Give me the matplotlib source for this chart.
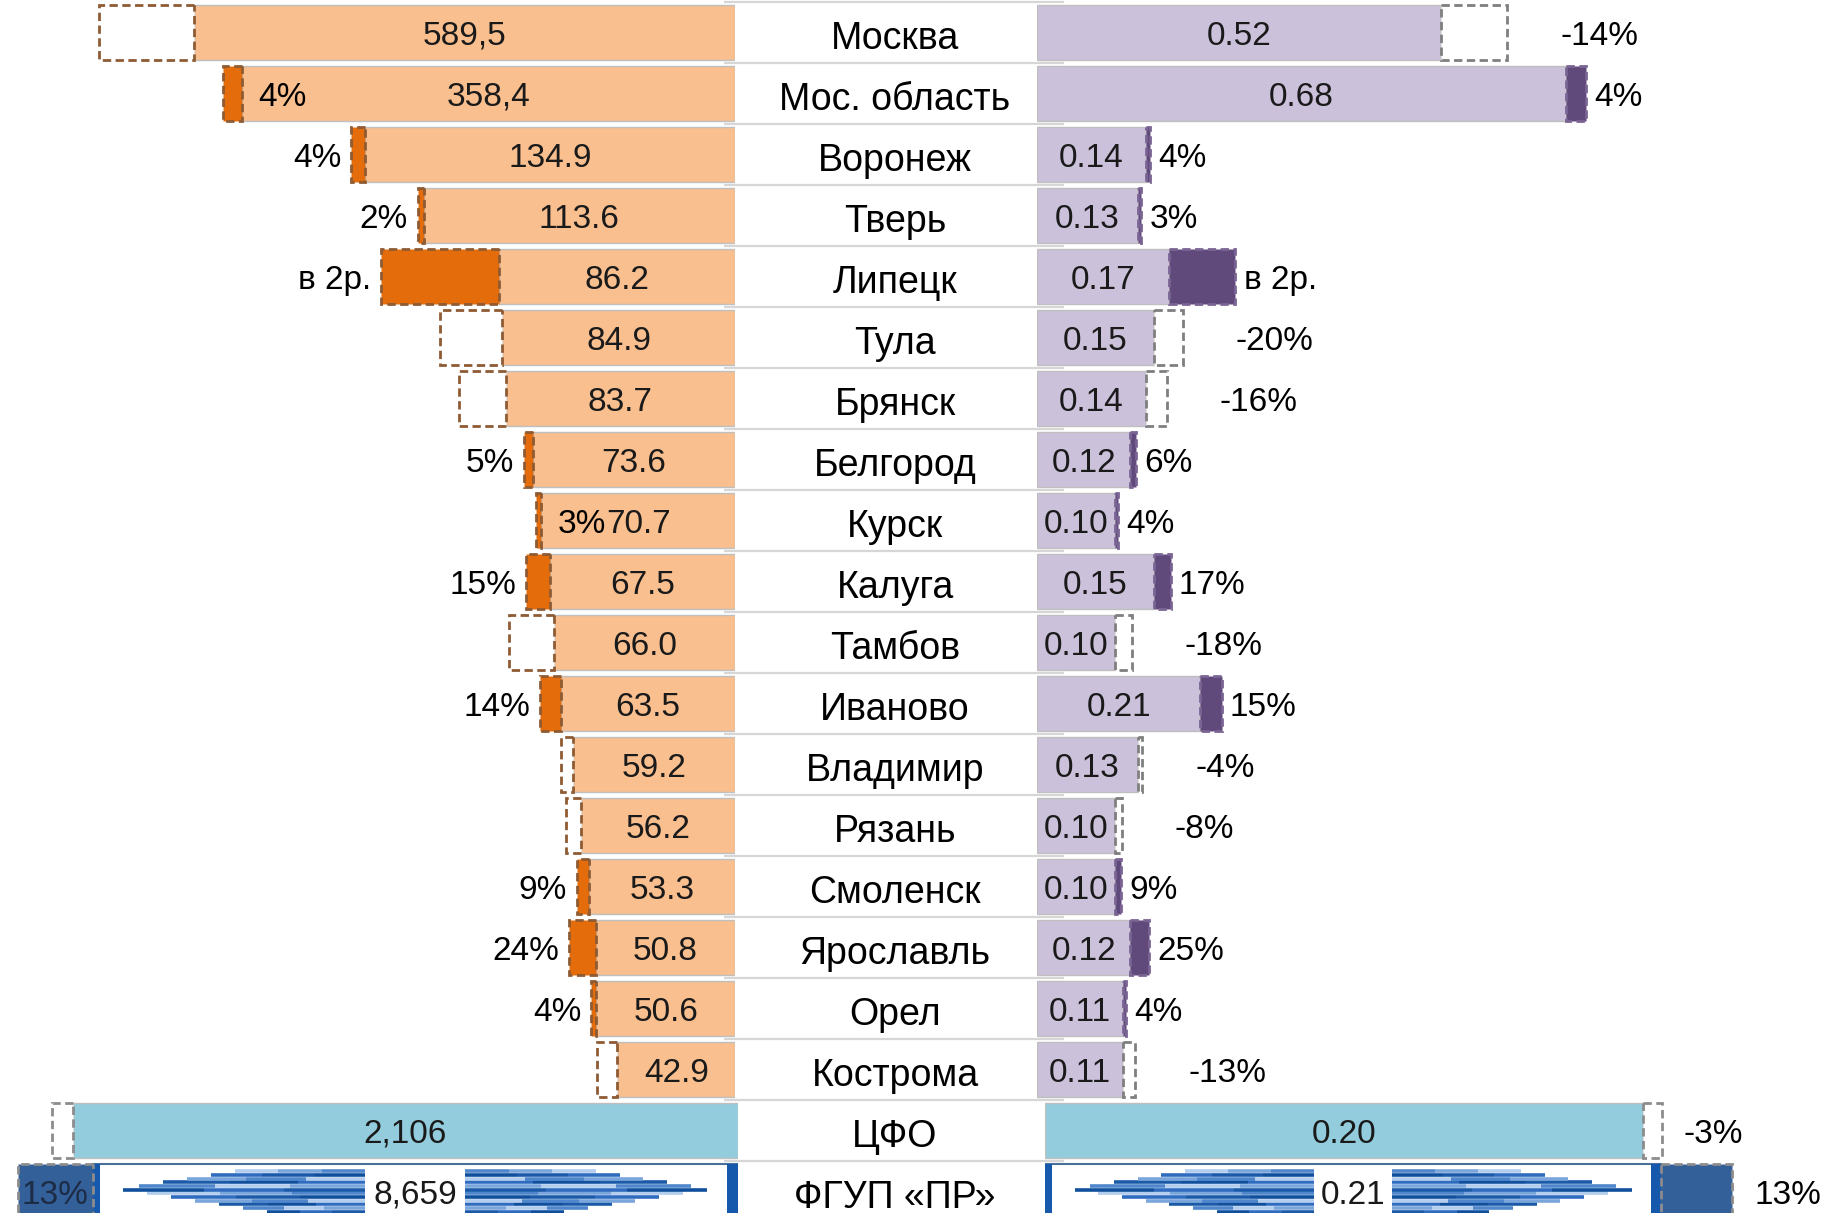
import numpy as np
import matplotlib.pyplot as plt

plt.rcParams['font.family'] = ['Liberation Sans', 'DejaVu Sans']
NUM_FONT = ['Liberation Sans Narrow', 'Liberation Sans', 'DejaVu Sans']
NUM_SIZE = 24
NAME_SIZE = 27

# data
regions = ['Москва', 'Мос. область', 'Воронеж', 'Тверь', 'Липецк', 'Тула', 'Брянск',
           'Белгород', 'Курск', 'Калуга', 'Тамбов', 'Иваново', 'Владимир', 'Рязань',
           'Смоленск', 'Ярославль', 'Орел', 'Кострома']
left_values = [589.5, 358.4, 134.9, 113.6, 86.2, 84.9, 83.7, 73.6, 70.7, 67.5,
               66.0, 63.5, 59.2, 56.2, 53.3, 50.8, 50.6, 42.9]
left_change = [-0.15, 0.04, 0.04, 0.02, 1.0, -0.21, -0.17, 0.05, 0.03, 0.15,
               -0.20, 0.14, -0.07, -0.09, 0.09, 0.24, 0.04, -0.15]
right_values = [0.52, 0.68, 0.14, 0.13, 0.17, 0.15, 0.14, 0.12, 0.10, 0.15,
                0.10, 0.21, 0.13, 0.10, 0.10, 0.12, 0.11, 0.11]
right_change = [-0.14, 0.04, 0.04, 0.03, 1.0, -0.20, -0.16, 0.06, 0.04, 0.17,
                -0.18, 0.15, -0.04, -0.08, 0.09, 0.25, 0.04, -0.13]

total_names = ['ЦФО', 'ФГУП «ПР»']
total_left = [2106, 8659]
total_left_change = [-0.03, 0.13]
total_right = [0.20, 0.21]
total_right_change = [-0.03, 0.13]

comma_rows = {'Москва', 'Мос. область'}
inside_label_rows = {'Мос. область', 'Курск'}

# colours
L_LIGHT, L_DARK, L_DASH = '#F9BF8F', '#E46C0A', '#8E5B33'
R_LIGHT, R_DARK, R_DASH = '#CCC1DA', '#604A7B', '#7F7F7F'
CFO = '#93CDDD'
FGUP_DARK, FGUP_EDGE = '#34609A', '#1658AC'
EDGE = '#BFBFBF'
DASH = (0, (3, 1.6))
DY = 0.06  # text sits a touch below the bar centre

W, H = 1821, 1213
fig = plt.figure(figsize=(W / 100, H / 100), dpi=100)


def rect(x0, y0, x1, y1):
    return [x0 / W, 1 - y1 / H, (x1 - x0) / W, (y1 - y0) / H]


def pct_text(p):
    return 'в 2р.' if p >= 1 else f'{p * 100:.0f}%'


def seg_ratio(p):
    # length of the change part relative to the current value
    return abs(1 - 1 / (1 + p))


# compressed scale for the two long bars on the left
T, C = 149.0, 35.2


def fwd(v):
    v = np.asarray(v, float)
    return np.where(v <= T, v, T + C * np.log(np.maximum(v, 1e-9) / T))


def inv(d):
    d = np.asarray(d, float)
    return np.where(d <= T, d, T * np.exp((np.minimum(d, 600) - T) / C))


# middle column: names and separators
axM = fig.add_axes(rect(735, 2, 1037, 1222))
axM.set_xlim(0, 1)
axM.set_ylim(19.5, -0.5)
axM.axis('off')
axM.hlines(np.arange(-0.5, 19), -0.035, 1.09, color='#D6D6D6', lw=1.6, clip_on=False)
for i, name in enumerate(regions + total_names):
    axM.text(0.53, i + 0.1, name, ha='center', va='center', fontsize=NAME_SIZE, color='black')

n = len(regions)
rows = np.arange(n)

# left panel
axL = fig.add_axes(rect(0, 2, 735, 1100))
axL.set_xscale('function', functions=(fwd, inv))
axL.set_xlim(float(inv(268.2)), 0)
axL.set_ylim(n - 0.5, -0.5)
axL.axis('off')
axL.barh(rows, left_values, height=0.9, color=L_LIGHT, edgecolor=EDGE, lw=1, zorder=2)
for i, (name, v, p) in enumerate(zip(regions, left_values, left_change)):
    ext = float(inv(fwd(v) * (1 + seg_ratio(p))))
    axL.barh(i, ext - v, left=v, height=0.9, color=L_DARK if p > 0 else 'white',
             edgecolor=L_DASH, lw=2, linestyle=DASH, zorder=3)
    txt = f'{v:.1f}'
    if name in comma_rows:
        txt = txt.replace('.', ',')
    axL.text(float(inv(fwd(v) / 2)), i + DY, txt, ha='center', va='center',
             fontsize=NUM_SIZE, family=NUM_FONT, color='#1a1a1a', zorder=5)
    if p > 0:
        if name in inside_label_rows:
            axL.annotate(pct_text(p), xy=(v, i + DY), xytext=(12, 0), textcoords='offset points',
                         ha='left', va='center', fontsize=NUM_SIZE, family=NUM_FONT, zorder=5)
        else:
            axL.annotate(pct_text(p), xy=(ext, i + DY), xytext=(-7, 0), textcoords='offset points',
                         ha='right', va='center', fontsize=NUM_SIZE, family=NUM_FONT, zorder=5)

# right panel
axR = fig.add_axes(rect(1037, 2, 1821, 1100))
axR.set_xlim(0, 1.008)
axR.set_ylim(n - 0.5, -0.5)
axR.axis('off')
axR.barh(rows, right_values, height=0.9, color=R_LIGHT, edgecolor=EDGE, lw=1, zorder=2)
for i, (v, p) in enumerate(zip(right_values, right_change)):
    ext = v * (1 + seg_ratio(p))
    axR.barh(i, ext - v, left=v, height=0.9, color=R_DARK if p > 0 else 'white',
             edgecolor='#7A6494' if p > 0 else R_DASH, lw=2, linestyle=DASH, zorder=3)
    axR.text(v / 2, i + DY, f'{v:.2f}', ha='center', va='center', fontsize=NUM_SIZE,
             family=NUM_FONT, color='#1a1a1a', zorder=5)
    axR.annotate(pct_text(p), xy=(ext, i + DY), xytext=(6 if p > 0 else 38, 0),
                 textcoords='offset points', ha='left', va='center', fontsize=NUM_SIZE,
                 family=NUM_FONT, zorder=5)


def draw_wings(ax, xc, gap, length):
    ys = np.linspace(-0.33, 0.33, 12)
    shades = ['#1a5aa8', '#7aa6dc', '#2f6cc0', '#b3cdee', '#0f4f9c', '#4f86cc']
    for j, y in enumerate(ys):
        span = length * (0.4 + 0.6 * (1 - abs(y - 0.04) / 0.37))
        edges = np.linspace(0, span, 4)
        for side in (-1, 1):
            x0 = xc + side * gap
            for k in range(3):
                a, b = x0 + side * edges[k], x0 + side * edges[k + 1]
                ax.plot([a, b], [0.5 + y, 0.5 + y], transform=ax.transAxes,
                        color=shades[(j + 2 * k) % len(shades)], lw=2.6,
                        solid_capstyle='butt', zorder=4)


# bottom rows: each total on its own scale
left_lims = [2337, 9900]
right_lims = [0.2595, 0.2645]
for k in range(2):
    y0 = 1100 + 61 * k
    v, p = total_left[k], total_left_change[k]
    ax = fig.add_axes(rect(0, y0, 738, y0 + 61))
    ax.set_xlim(left_lims[k], 0)
    ax.set_ylim(0.5, -0.5)
    ax.axis('off')
    ext = v * (1 + seg_ratio(p))
    if k == 0:
        ax.barh(0, v, height=0.9, color=CFO, edgecolor=EDGE, lw=1, zorder=2)
        ax.barh(0, ext - v, left=v, height=0.9, color='white', edgecolor='#8C8C8C',
                lw=2, linestyle=DASH, zorder=3)
    else:
        ax.barh(0, v, height=0.9, color='white', edgecolor='#4A6F9A', lw=1.5, zorder=2)
        ax.barh(0, v * 0.017, height=0.9, color=FGUP_EDGE, lw=0, zorder=3)
        ax.barh(0, v * 0.011, left=v * 0.989, height=0.9, color=FGUP_EDGE, lw=0, zorder=3)
        ax.barh(0, ext - v, left=v, height=0.9, color=FGUP_DARK, edgecolor='#8C8C8C',
                lw=2, linestyle=DASH, zorder=3)
        ax.text((v + ext) / 2, DY, pct_text(p), ha='center', va='center', fontsize=NUM_SIZE,
                family=NUM_FONT, color='#1d2b45', zorder=5)
        draw_wings(ax, 1 - v / 2 / left_lims[k], 0.068, 0.333)
    ax.text(v / 2, DY, f'{v:,}', ha='center', va='center', fontsize=NUM_SIZE,
            family=NUM_FONT, color='#1a1a1a', zorder=5)

    v, p = total_right[k], total_right_change[k]
    ax = fig.add_axes(rect(1045, y0, 1821, y0 + 61))
    ax.set_xlim(0, right_lims[k])
    ax.set_ylim(0.5, -0.5)
    ax.axis('off')
    ext = v * (1 + seg_ratio(p))
    if k == 0:
        ax.barh(0, v, height=0.9, color=CFO, edgecolor=EDGE, lw=1, zorder=2)
        ax.barh(0, ext - v, left=v, height=0.9, color='white', edgecolor='#8C8C8C',
                lw=2, linestyle=DASH, zorder=3)
    else:
        ax.barh(0, v, height=0.9, color='white', edgecolor='#4A6F9A', lw=1.5, zorder=2)
        ax.barh(0, v * 0.012, height=0.9, color=FGUP_EDGE, lw=0, zorder=3)
        ax.barh(0, v * 0.017, left=v * 0.983, height=0.9, color=FGUP_EDGE, lw=0, zorder=3)
        ax.barh(0, ext - v, left=v, height=0.9, color=FGUP_DARK, edgecolor='#8C8C8C',
                lw=2, linestyle=DASH, zorder=3)
        draw_wings(ax, v / 2 / right_lims[k], 0.05, 0.314)
    ax.text(v / 2, DY, f'{v:.2f}', ha='center', va='center', fontsize=NUM_SIZE,
            family=NUM_FONT, color='#1a1a1a', zorder=5)
    ax.annotate(pct_text(p), xy=(ext, DY), xytext=(16, 0),
                textcoords='offset points', ha='left', va='center', fontsize=NUM_SIZE,
                family=NUM_FONT, zorder=5)

fig.savefig('out.png', dpi=100)
